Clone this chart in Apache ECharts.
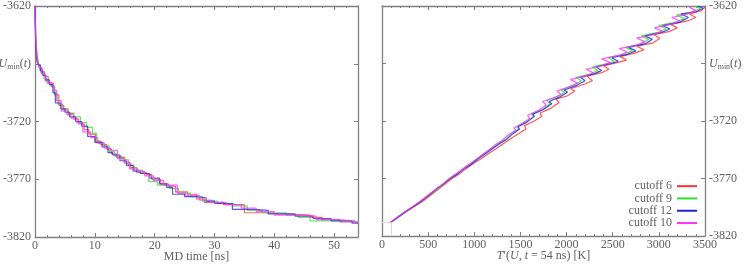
<!DOCTYPE html>
<html><head><meta charset="utf-8">
<script src="https://cdn.jsdelivr.net/npm/echarts@6/dist/echarts.min.js"></script>
<style>html,body{margin:0;padding:0;background:#fff}#c{width:747px;height:264px}</style>
</head><body><div id="c"></div>
<script>
// ---- data ----
const seriesNames = ['cutoff 6', 'cutoff 9', 'cutoff 12', 'cutoff 10'];
const seriesColors = ['#ff3030', '#30e030', '#2020e0', '#ff30ff'];
const yTicks = [-3820, -3770, -3720, -3670, -3620];
const xTicksLeft = [0, 10, 20, 30, 40, 50];
const xTicksRight = [0, 500, 1000, 1500, 2000, 2500, 3000, 3500];

// Left panel: U_min(t) vs MD time [ns]
const timeCut6 = [[0,-3620],[0.05,-3632],[0.12,-3646],[0.22,-3656],[0.35,-3663],[0.5,-3668],[0.8,-3674],[1.2,-3677],[1.6,-3681],[2.2,-3686],[2.8,-3690],[3.3,-3697],[4.0,-3706],[4.8,-3709],[5.5,-3713],[6.5,-3718],[7.3,-3722],[8.2,-3727],[9.0,-3731],[10.1,-3737],[11.0,-3740],[12.0,-3744],[12.8,-3748],[13.6,-3751],[15.0,-3756],[16.0,-3760],[17.0,-3764],[18.6,-3766],[19.5,-3770],[21.0,-3774],[22.3,-3776],[23.5,-3781],[25.5,-3783],[27.0,-3787],[28.3,-3790],[31.5,-3792],[35.0,-3799],[38.5,-3800],[41.0,-3801],[46.0,-3803],[48.0,-3805],[51.0,-3807],[54,-3807]];
const timeCut9 = [[0,-3620],[0.08,-3638],[0.15,-3650],[0.3,-3660],[0.45,-3666],[0.7,-3672],[1.0,-3678],[1.5,-3683],[2.0,-3687],[2.6,-3689],[3.2,-3696],[3.8,-3705],[4.6,-3710],[5.6,-3714],[6.4,-3716],[7.6,-3721],[8.6,-3725],[9.6,-3730],[10.3,-3738],[11.5,-3741],[12.4,-3746],[13.3,-3750],[14.5,-3753],[15.6,-3758],[16.6,-3762],[18.0,-3765],[19.0,-3772],[20.5,-3775],[22.5,-3778],[24.0,-3782],[26.0,-3785],[28.0,-3789],[30.5,-3791],[33.2,-3793],[35.5,-3797],[38.0,-3799],[42.0,-3801],[44.0,-3803],[46.0,-3806],[52.0,-3807],[54,-3808]];
const timeCut12 = [[0,-3620],[0.04,-3635],[0.1,-3652],[0.2,-3661],[0.3,-3667],[0.5,-3671],[0.9,-3676],[1.3,-3680],[1.8,-3684],[2.4,-3688],[3.0,-3695],[3.4,-3704],[4.3,-3709],[5.0,-3712],[5.8,-3716],[6.8,-3720],[7.8,-3724],[8.8,-3733],[10.0,-3738],[11.2,-3742],[12.2,-3747],[13.0,-3749],[14.2,-3754],[15.3,-3758],[16.4,-3763],[17.6,-3765],[19.2,-3769],[20.8,-3774],[22.0,-3777],[23.0,-3783],[25.0,-3785],[26.8,-3786],[28.6,-3789],[30.0,-3791],[33.0,-3796],[36.5,-3797],[39.0,-3800],[43.5,-3802],[46.5,-3804],[49.5,-3806],[53.0,-3808],[54,-3808]];
const timeCut10 = [[0,-3620],[0.06,-3640],[0.14,-3650],[0.25,-3662],[0.4,-3669],[0.65,-3673],[1.1,-3679],[1.7,-3685],[2.3,-3687],[3.1,-3693],[3.6,-3702],[4.4,-3711],[5.3,-3714],[6.0,-3717],[7.0,-3721],[8.0,-3729],[9.3,-3734],[10.5,-3739],[11.6,-3743],[12.6,-3745],[13.8,-3752],[14.8,-3755],[15.8,-3761],[17.2,-3763],[18.3,-3767],[19.8,-3771],[21.5,-3775],[23.8,-3782],[25.2,-3784],[27.5,-3788],[29.5,-3790],[32.0,-3792],[34.5,-3795],[37.0,-3798],[40.0,-3801],[44.8,-3802],[47.0,-3805],[50.5,-3806],[53.5,-3808],[54,-3808]];

// Right panel: U_min vs T'(U, t = 54 ns) [K]
const tempCut6 = [[100,-3808],[190,-3803],[280,-3798],[360,-3794],[440,-3790],[520,-3785],[600,-3780],[680,-3775],[760,-3770],[840,-3766],[920,-3761],[990,-3757],[1070,-3753],[1160,-3748],[1240,-3744],[1330,-3739],[1400,-3735],[1480,-3731],[1560,-3727],[1545,-3724],[1650,-3720],[1730,-3716],[1712,-3713],[1830,-3709],[1920,-3704],[1885,-3701],[2010,-3698],[2090,-3694],[2045,-3692],[2190,-3688],[2280,-3685],[2220,-3681],[2380,-3678],[2460,-3675],[2400,-3672],[2560,-3669],[2650,-3667],[2580,-3664],[2740,-3661],[2840,-3658],[2760,-3655],[2940,-3652],[3010,-3648],[2950,-3645],[3120,-3642],[3200,-3639],[3130,-3636],[3310,-3633],[3400,-3630],[3330,-3627],[3460,-3624],[3500,-3621]];
const tempCut9 = [[96,-3808],[185,-3803],[272,-3798],[352,-3794],[425,-3790],[505,-3785],[585,-3780],[655,-3776],[730,-3770],[810,-3766],[885,-3761],[950,-3758],[1025,-3753],[1115,-3748],[1190,-3744],[1270,-3739],[1340,-3736],[1400,-3731],[1480,-3727],[1462,-3725],[1560,-3721],[1640,-3716],[1622,-3714],[1740,-3710],[1820,-3705],[1788,-3702],[1900,-3699],[1980,-3695],[1940,-3693],[2080,-3689],[2160,-3685],[2100,-3682],[2260,-3679],[2340,-3676],[2280,-3673],[2440,-3670],[2520,-3668],[2450,-3665],[2620,-3662],[2710,-3659],[2640,-3656],[2810,-3653],[2890,-3649],[2810,-3646],[2990,-3643],[3080,-3640],[3000,-3637],[3180,-3634],[3280,-3631],[3190,-3628],[3360,-3625],[3450,-3622],[3380,-3620]];
const tempCut12 = [[95,-3808],[180,-3803],[270,-3798],[350,-3794],[420,-3790],[500,-3785],[590,-3779],[660,-3775],[740,-3770],[820,-3766],[900,-3761],[960,-3758],[1040,-3753],[1130,-3748],[1200,-3744],[1290,-3739],[1350,-3736],[1420,-3731],[1490,-3727],[1475,-3725],[1570,-3721],[1650,-3716],[1635,-3714],[1750,-3710],[1840,-3705],[1810,-3703],[1930,-3699],[2010,-3695],[1975,-3693],[2110,-3689],[2200,-3685],[2150,-3682],[2300,-3679],[2380,-3676],[2320,-3673],[2480,-3670],[2560,-3668],[2490,-3665],[2660,-3662],[2750,-3659],[2670,-3656],[2850,-3653],[2930,-3649],[2850,-3646],[3030,-3643],[3120,-3640],[3040,-3637],[3230,-3634],[3320,-3630],[3240,-3627],[3400,-3625],[3480,-3622],[3420,-3620]];
const tempCut10 = [[92,-3808],[175,-3803],[262,-3798],[340,-3794],[410,-3790],[490,-3785],[570,-3780],[640,-3776],[715,-3771],[795,-3766],[870,-3762],[935,-3758],[1010,-3754],[1090,-3749],[1160,-3745],[1240,-3740],[1300,-3737],[1370,-3732],[1450,-3728],[1430,-3726],[1520,-3722],[1600,-3718],[1578,-3715],[1690,-3711],[1780,-3706],[1740,-3703],[1850,-3700],[1940,-3697],[1895,-3694],[2030,-3690],[2120,-3687],[2040,-3684],[2200,-3681],[2290,-3678],[2210,-3675],[2380,-3672],[2470,-3669],[2380,-3666],[2560,-3663],[2660,-3660],[2570,-3657],[2760,-3654],[2850,-3651],[2760,-3648],[2940,-3645],[3040,-3642],[2950,-3639],[3130,-3636],[3230,-3633],[3140,-3630],[3310,-3627],[3400,-3624],[3330,-3621]];

const timeData = [timeCut6, timeCut9, timeCut12, timeCut10];
const tempData = [tempCut6, tempCut9, tempCut12, tempCut10];

// ---- chart ----
const FONT = 'Liberation Serif';
const TXT = '#606060';
const AX = '#808080';
const chart = echarts.init(document.getElementById('c'), null, {renderer: 'canvas'});

const richLbl = {
  n: {fontFamily: FONT, fontSize: 12, color: TXT},
  i: {fontFamily: FONT, fontSize: 12, fontStyle: 'italic', color: TXT},
  s: {fontFamily: FONT, fontSize: 8, color: TXT, padding: [6, 0, 0, 0]}
};
function yLabel(v) {
  if (v === yTicks[3]) return '{i|U}{s|min}{n|(}{i|t}{n|)}';
  return '{n|' + v + '}';
}
function baseAxisCommon() {
  return {
    axisLine: {show: true, onZero: false, lineStyle: {color: AX, width: 1.3}},
    axisTick: {show: true, inside: true, length: 4, lineStyle: {color: AX}},
    splitLine: {show: false}
  };
}
function xAx(grid, pos, max, interval, labels, name) {
  return Object.assign(baseAxisCommon(), {
    type: 'value', gridIndex: grid, position: pos, min: 0, max: max, interval: interval,
    minorTick: {show: true, splitNumber: 5, length: 2, lineStyle: {color: AX}},
    axisLabel: {show: labels, margin: 3, fontFamily: FONT, fontSize: 12, color: TXT,
      showMaxLabel: max % interval === 0, formatter: v => String(v)},
    name: name || '', nameLocation: 'middle', nameGap: 14, nameMoveOverlap: false,
    nameTextStyle: {fontFamily: FONT, fontSize: 12, color: TXT, rich: richLbl}
  });
}
function yAx(grid, pos, labels) {
  return Object.assign(baseAxisCommon(), {
    type: 'value', gridIndex: grid, position: pos, min: yTicks[0], max: yTicks[yTicks.length - 1],
    interval: yTicks[1] - yTicks[0],
    axisLabel: {show: labels, margin: 4, formatter: yLabel, rich: richLbl, color: TXT}
  });
}

const series = [];
timeData.forEach((d, k) => series.push({
  name: seriesNames[k], type: 'line', xAxisIndex: 0, yAxisIndex: 0, data: d, step: 'end',
  symbol: 'none', lineStyle: {color: seriesColors[k], width: 1.2, opacity: 0.75},
  itemStyle: {color: seriesColors[k]}, z: 2 + k, animation: false
}));
tempData.forEach((d, k) => {
  const s = {
    name: seriesNames[k], type: 'line', xAxisIndex: 2, yAxisIndex: 2, data: d,
    symbol: 'none', lineStyle: {color: seriesColors[k], width: 1.2, opacity: 0.8},
    itemStyle: {color: seriesColors[k]}, z: 2 + k, animation: false
  };
  if (k === 2) {
    const p = d[0];
    s.markLine = {
      silent: true, symbol: 'none', label: {show: false},
      lineStyle: {color: '#d8d8d8', width: 1, type: 'solid'},
      data: [[{coord: [0, p[1]]}, {coord: [p[0], p[1]]}], [{coord: [p[0], yTicks[0]]}, {coord: [p[0], p[1]]}]]
    };
  }
  series.push(s);
});

chart.setOption({
  animation: false,
  grid: [
    {left: 35, right: 389, top: 6, bottom: 27, containLabel: false, outerBoundsMode: 'none'},
    {left: 382, right: 42, top: 6, bottom: 28, containLabel: false, outerBoundsMode: 'none'}
  ],
  xAxis: [
    xAx(0, 'bottom', 54, 10, true, 'MD time [ns]'),
    xAx(0, 'top', 54, 10, false),
    xAx(1, 'bottom', 3500, 500, true, "{i|T}{n|′(}{i|U}{n|, }{i|t}{n| = 54 ns) [K]}"),
    xAx(1, 'top', 3500, 500, false)
  ],
  yAxis: [
    yAx(0, 'left', true),
    yAx(0, 'right', false),
    yAx(1, 'right', true),
    yAx(1, 'left', false)
  ],
  legend: {
    data: seriesNames, orient: 'vertical', align: 'right', right: 45, top: 175,
    icon: 'rect', itemWidth: 20, itemHeight: 2, itemGap: 0,
    textStyle: {fontFamily: FONT, fontSize: 12, lineHeight: 12.3, color: TXT}
  },
  series: series
});
</script></body></html>
